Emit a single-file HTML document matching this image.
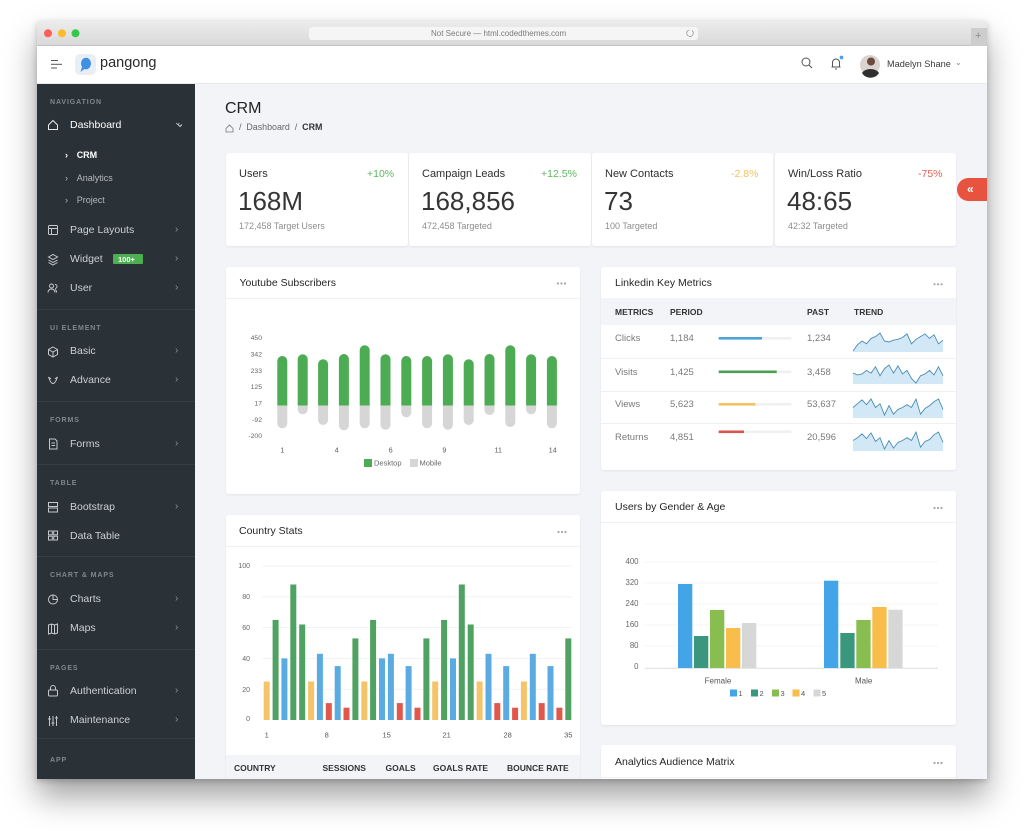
<!DOCTYPE html>
<html>
<head>
<meta charset="utf-8">
<style>
  html,body{margin:0;padding:0;}
  body{width:1024px;height:832px;background:#ffffff;position:relative;overflow:hidden;font-family:"Liberation Sans",Arial,sans-serif;}
  .win{position:absolute;left:37px;top:21px;width:950px;height:758px;overflow:hidden;background:#f3f4f7;box-shadow:0 18px 30px rgba(0,0,0,0.36),0 2px 6px rgba(0,0,0,0.2);}
  .inner{position:absolute;left:-37px;top:-21px;width:1024px;height:832px;}
  .abs{position:absolute;}
  .t{position:absolute;line-height:1;white-space:nowrap;}
  .titlebar{left:37px;top:21px;width:950px;height:25px;background:linear-gradient(#ececec,#d9d9d9);border-bottom:1px solid #c4c4c4;box-sizing:border-box;}
  .addr{left:309px;top:27px;width:389px;height:13px;background:#f5f5f5;border-radius:3px;}
  .plus{left:971px;top:28px;width:16px;height:18px;background:#cdcdcd;}
  .header{left:37px;top:46px;width:950px;height:38px;background:#fff;border-bottom:1px solid #e8e9ec;box-sizing:border-box;}
  .sidebar{left:37px;top:84px;width:158px;height:695px;background:#2a3237;}
  .sdiv{position:absolute;left:37px;width:158px;height:1px;background:#353e44;}
  .sec{font-size:7px;font-weight:bold;letter-spacing:0.9px;color:#7f888e;}
  .item{font-size:10.5px;color:#cbd0d4;}
  .sub{font-size:9px;color:#b3b9be;}
  .chev{font-size:10px;color:#8b9399;}
  .card{position:absolute;background:#fff;border-radius:3px;box-shadow:0 1px 2px rgba(0,0,0,0.07);}
  .lbl{font-size:11px;color:#2e2e2e;}
  .big{font-size:26px;color:#353535;}
  .small{font-size:9px;color:#8d8d8d;}
  .ctitle{font-size:10.5px;color:#262626;}
  .th{font-size:8.5px;font-weight:bold;color:#333;}
  .td{font-size:9.5px;color:#7a7a7a;}
</style>
</head>
<body>
<div class="win">
<div class="inner">

  <!-- browser title bar -->
  <div class="abs titlebar"></div>
  <div class="abs addr"></div>
  <div class="t" style="left:431px;top:30px;font-size:8px;color:#7a7a7a;">Not Secure — html.codedthemes.com</div>
  <div class="abs plus"></div>
  <div class="t" style="left:975px;top:31px;font-size:11px;color:#8a8a8a;">+</div>

  <!-- app header -->
  <div class="abs header"></div>
  <div class="t" style="left:100px;top:56px;font-size:14.5px;color:#2a2a2a;">pangong</div>
  <div class="t" style="left:887px;top:60px;font-size:9.2px;color:#3a3a3a;">Madelyn Shane</div>
  <div class="t" style="left:955px;top:59px;font-size:8px;color:#888;">⌄</div>

  <!-- sidebar -->
  <div class="abs sidebar"></div>
  <div class="sdiv" style="top:309px;"></div>
  <div class="sdiv" style="top:401px;"></div>
  <div class="sdiv" style="top:464px;"></div>
  <div class="sdiv" style="top:556px;"></div>
  <div class="sdiv" style="top:649px;"></div>
  <div class="sdiv" style="top:738px;"></div>

  <div class="t sec" style="left:50px;top:99px;">NAVIGATION</div>
  <div class="t item" style="left:70px;top:119.5px;color:#ffffff;">Dashboard</div>
  <div class="t" style="left:174px;top:118px;font-size:9px;color:#c9ced2;">⌄</div>
  <div class="t sub" style="left:65px;top:150.5px;color:#fff;font-weight:bold;">›</div>
  <div class="t sub" style="left:76.7px;top:150.5px;color:#fff;font-weight:bold;">CRM</div>
  <div class="t sub" style="left:65px;top:173.6px;">›</div>
  <div class="t sub" style="left:76.7px;top:173.6px;">Analytics</div>
  <div class="t sub" style="left:65px;top:196.3px;">›</div>
  <div class="t sub" style="left:76.7px;top:196.3px;">Project</div>
  <div class="t item" style="left:70px;top:224.5px;">Page Layouts</div>
  <div class="t item" style="left:70px;top:253.8px;">Widget</div>
  <div class="abs" style="left:113px;top:254px;width:30px;height:10px;background:#4caf50;border-radius:1px;"></div>
  <div class="t" style="left:118px;top:255.5px;font-size:7.5px;font-weight:bold;color:#fff;">100+</div>
  <div class="t item" style="left:70px;top:282.8px;">User</div>
  <div class="t sec" style="left:50px;top:324.7px;">UI ELEMENT</div>
  <div class="t item" style="left:70px;top:346.2px;">Basic</div>
  <div class="t item" style="left:70px;top:375.2px;">Advance</div>
  <div class="t sec" style="left:50px;top:417.1px;">FORMS</div>
  <div class="t item" style="left:70px;top:438.5px;">Forms</div>
  <div class="t sec" style="left:50px;top:479.7px;">TABLE</div>
  <div class="t item" style="left:70px;top:501.8px;">Bootstrap</div>
  <div class="t item" style="left:70px;top:530.5px;">Data Table</div>
  <div class="t sec" style="left:50px;top:572.4px;">CHART &amp; MAPS</div>
  <div class="t item" style="left:70px;top:593.8px;">Charts</div>
  <div class="t item" style="left:70px;top:623.2px;">Maps</div>
  <div class="t sec" style="left:50px;top:664.7px;">PAGES</div>
  <div class="t item" style="left:70px;top:686.2px;">Authentication</div>
  <div class="t item" style="left:70px;top:715.2px;">Maintenance</div>
  <div class="t sec" style="left:50px;top:757.1px;">APP</div>

  <div class="t chev" style="left:175px;top:224.5px;">›</div>
  <div class="t chev" style="left:175px;top:253.8px;">›</div>
  <div class="t chev" style="left:175px;top:282.8px;">›</div>
  <div class="t chev" style="left:175px;top:346.2px;">›</div>
  <div class="t chev" style="left:175px;top:375.2px;">›</div>
  <div class="t chev" style="left:175px;top:438.5px;">›</div>
  <div class="t chev" style="left:175px;top:501.8px;">›</div>
  <div class="t chev" style="left:175px;top:593.8px;">›</div>
  <div class="t chev" style="left:175px;top:623.2px;">›</div>
  <div class="t chev" style="left:175px;top:686.2px;">›</div>
  <div class="t chev" style="left:175px;top:715.2px;">›</div>

  <!-- page title -->
  <div class="t" style="left:225px;top:101px;font-size:16px;color:#222;">CRM</div>
  <div class="t" style="left:239px;top:123px;font-size:8.9px;color:#666;">/&nbsp; Dashboard &nbsp;/&nbsp; <b style="color:#333;">CRM</b></div>

  <!-- stat cards -->
  <div class="card" style="left:226px;top:153px;width:182px;height:93px;"></div>
  <div class="card" style="left:409px;top:153px;width:182px;height:93px;"></div>
  <div class="card" style="left:592px;top:153px;width:181px;height:93px;"></div>
  <div class="card" style="left:775px;top:153px;width:181px;height:93px;"></div>

  <div class="t lbl" style="left:239px;top:168.5px;">Users</div>
  <div class="t" style="left:367px;top:169px;font-size:10.5px;color:#5cb660;">+10%</div>
  <div class="t big" style="left:238px;top:188px;">168M</div>
  <div class="t small" style="left:239px;top:222px;">172,458 Target Users</div>

  <div class="t lbl" style="left:422px;top:168.5px;">Campaign Leads</div>
  <div class="t" style="left:541px;top:169px;font-size:10.5px;color:#5cb660;">+12.5%</div>
  <div class="t big" style="left:421px;top:188px;">168,856</div>
  <div class="t small" style="left:422px;top:222px;">472,458 Targeted</div>

  <div class="t lbl" style="left:605px;top:168.5px;">New Contacts</div>
  <div class="t" style="left:731px;top:169px;font-size:10.5px;color:#f1c25c;">-2.8%</div>
  <div class="t big" style="left:604px;top:188px;">73</div>
  <div class="t small" style="left:605px;top:222px;">100 Targeted</div>

  <div class="t lbl" style="left:788px;top:168.5px;">Win/Loss Ratio</div>
  <div class="t" style="left:918px;top:169px;font-size:10.5px;color:#e5604f;">-75%</div>
  <div class="t big" style="left:787px;top:188px;">48:65</div>
  <div class="t small" style="left:788px;top:222px;">42:32 Targeted</div>

  <!-- red tab -->
  <div class="abs" style="left:957px;top:178px;width:34px;height:23px;background:#e8533f;border-radius:12px 0 0 12px;"></div>
  <div class="t" style="left:967px;top:183px;font-size:12px;color:#fff;font-weight:bold;">«</div>

  <!-- chart cards -->
  <div class="card" style="left:226px;top:267px;width:354px;height:227px;"></div>
  <div class="abs" style="left:226px;top:298px;width:354px;height:1px;background:#eef0f3;"></div>
  <div class="t ctitle" style="left:239.5px;top:277.5px;">Youtube Subscribers</div>

  <div class="card" style="left:601px;top:267px;width:355px;height:203px;"></div>
  <div class="abs" style="left:601px;top:298px;width:355px;height:27px;background:#f3f4f7;"></div>
  <div class="t ctitle" style="left:615px;top:277.5px;">Linkedin Key Metrics</div>
  <div class="t th" style="left:615px;top:307.5px;">METRICS</div>
  <div class="t th" style="left:670px;top:307.5px;">PERIOD</div>
  <div class="t th" style="left:807px;top:307.5px;">PAST</div>
  <div class="t th" style="left:854px;top:307.5px;">TREND</div>
  <div class="abs" style="left:601px;top:358px;width:355px;height:1px;background:#eef0f3;"></div>
  <div class="abs" style="left:601px;top:391px;width:355px;height:1px;background:#eef0f3;"></div>
  <div class="abs" style="left:601px;top:423px;width:355px;height:1px;background:#eef0f3;"></div>
  <div class="t td" style="left:615px;top:333.5px;">Clicks</div>
  <div class="t td" style="left:670px;top:333.5px;">1,184</div>
  <div class="t td" style="left:807px;top:333.5px;">1,234</div>
  <div class="t td" style="left:615px;top:367.5px;">Visits</div>
  <div class="t td" style="left:670px;top:367.5px;">1,425</div>
  <div class="t td" style="left:807px;top:367.5px;">3,458</div>
  <div class="t td" style="left:615px;top:399.5px;">Views</div>
  <div class="t td" style="left:670px;top:399.5px;">5,623</div>
  <div class="t td" style="left:807px;top:399.5px;">53,637</div>
  <div class="t td" style="left:615px;top:433px;">Returns</div>
  <div class="t td" style="left:670px;top:433px;">4,851</div>
  <div class="t td" style="left:807px;top:433px;">20,596</div>

  <div class="card" style="left:226px;top:515px;width:354px;height:290px;"></div>
  <div class="abs" style="left:226px;top:546px;width:354px;height:1px;background:#eef0f3;"></div>
  <div class="abs" style="left:226px;top:755px;width:354px;height:30px;background:#f3f4f7;"></div>
  <div class="t ctitle" style="left:239px;top:525.5px;">Country Stats</div>
  <div class="t th" style="left:234px;top:764px;">COUNTRY</div>
  <div class="t th" style="left:322.5px;top:764px;">SESSIONS</div>
  <div class="t th" style="left:385.5px;top:764px;">GOALS</div>
  <div class="t th" style="left:433px;top:764px;">GOALS RATE</div>
  <div class="t th" style="left:507px;top:764px;">BOUNCE RATE</div>

  <div class="card" style="left:601px;top:491px;width:355px;height:234px;"></div>
  <div class="abs" style="left:601px;top:522px;width:355px;height:1px;background:#eef0f3;"></div>
  <div class="t ctitle" style="left:615px;top:501.5px;">Users by Gender &amp; Age</div>

  <div class="card" style="left:601px;top:745px;width:355px;height:60px;"></div>
  <div class="abs" style="left:601px;top:777px;width:355px;height:1px;background:#eef0f3;"></div>
  <div class="t ctitle" style="left:615px;top:756.5px;">Analytics Audience Matrix</div>

  <!-- overlay svg: icons + charts -->
  <svg class="abs" style="left:0;top:0;" width="1024" height="832" viewBox="0 0 1024 832" xmlns="http://www.w3.org/2000/svg" font-family="Liberation Sans, Arial, sans-serif">
    <!-- traffic lights -->
    <circle cx="48" cy="33.3" r="4" fill="#fc5f57"/>
    <circle cx="62" cy="33.3" r="4" fill="#fdbc2e"/>
    <circle cx="75.5" cy="33.3" r="4" fill="#34c84a"/>
    <path d="M692 30.5 a3.3 3.3 0 1 1 -3 -0.5" fill="none" stroke="#999" stroke-width="0.8"/>

    <!-- hamburger -->
    <line x1="51" y1="60.5" x2="58" y2="60.5" stroke="#555" stroke-width="1"/>
    <line x1="51" y1="64.3" x2="62" y2="64.3" stroke="#555" stroke-width="1"/>
    <line x1="51" y1="68" x2="57" y2="68" stroke="#555" stroke-width="1"/>
    <!-- logo -->
    <rect x="75" y="54" width="21" height="21" rx="5" fill="#e9eef4"/>
    <ellipse cx="86" cy="63.5" rx="5" ry="5.8" fill="#3f8fe2"/>
    <path d="M82 67 L80.5 72 L85 68.5 Z" fill="#3f8fe2"/>

    <!-- header right icons -->
    <circle cx="806" cy="62" r="4" fill="none" stroke="#555" stroke-width="1"/>
    <line x1="809" y1="65" x2="812" y2="68" stroke="#555" stroke-width="1.1"/>
    <path d="M832.5 67 V62.5 a3.5 3.5 0 0 1 7 0 V67 Z M831.5 67 H840.5 M835 69 h2" fill="none" stroke="#555" stroke-width="1"/>
    <circle cx="841.5" cy="57.5" r="1.9" fill="#4a9ff5"/>
    <circle cx="870" cy="65" r="10" fill="#d9d4cf"/>
    <circle cx="871" cy="61.5" r="4" fill="#6b4a3a"/>
    <path d="M862 73 a9 6 0 0 1 17 0 a10 10 0 0 1 -17 0Z" fill="#2f2f2f"/>

    <!-- breadcrumb home -->
    <path d="M226 128.5 L229.5 125 L233 128.5 V132 H226 Z" fill="none" stroke="#777" stroke-width="0.8"/>

    <!-- sidebar icons -->
    <g fill="none" stroke="#c3c8cc" stroke-width="1">
      <path d="M48.5 125 L53 120.5 L57.5 125 V129.5 H48.5 Z" stroke="#e6e9eb"/>
      <rect x="48.5" y="225.5" width="9" height="9" rx="1"/><line x1="48.5" y1="228.5" x2="57.5" y2="228.5"/><line x1="51.5" y1="228.5" x2="51.5" y2="234.5"/>
      <path d="M48.5 257 L53 254.5 L57.5 257 L53 259.5 Z M48.5 260 L53 262.5 L57.5 260 M48.5 262.5 L53 265 L57.5 262.5"/>
      <circle cx="51.5" cy="286" r="2"/><path d="M48 292.5 a3.5 3.5 0 0 1 7 0"/><path d="M55 284.5 a2 2 0 0 1 0 4 M56.5 292.5 a3 3 0 0 0 -1.5 -3"/>
      <path d="M53 347 L57.5 349.5 V354.5 L53 357 L48.5 354.5 V349.5 Z M48.5 349.5 L53 352 L57.5 349.5 M53 352 V357"/>
      <path d="M48.5 377 Q53 390 57.5 377 M48.5 377 L51 379 M57.5 377 L55 379"/>
      <path d="M49.5 439 H55 L57 441 V449 H49.5 Z M51.5 443 H55 M51.5 445.5 H55"/>
      <rect x="48.5" y="502.5" width="9" height="4"/><rect x="48.5" y="508" width="9" height="4"/>
      <rect x="48.5" y="531" width="3.8" height="3.8"/><rect x="53.7" y="531" width="3.8" height="3.8"/><rect x="48.5" y="536.2" width="3.8" height="3.8"/><rect x="53.7" y="536.2" width="3.8" height="3.8"/>
      <circle cx="53" cy="599.5" r="4.5"/><path d="M53 595 V599.5 H57.5"/>
      <path d="M48.5 625 L51.5 624 L54.5 625 L57.5 624 V633 L54.5 634 L51.5 633 L48.5 634 Z M51.5 624 V633 M54.5 625 V634"/>
      <rect x="48.5" y="690" width="9" height="6" rx="1"/><path d="M50.5 690 V688 a2.5 2.5 0 0 1 5 0 V690"/>
      <path d="M49.5 716 V726 M53 716 V726 M56.5 716 V726 M48 719 H51 M51.5 723 H54.5 M55 718 H58"/>
    </g>
    <path d="M178 124.5 l2 2 l2 -2" fill="none" stroke="#c9ced2" stroke-width="1"/>

    <!-- card menu dots -->
    <g fill="#a5a5a5">
      <circle cx="558" cy="283.5" r="1.1"/><circle cx="561.5" cy="283.5" r="1.1"/><circle cx="565" cy="283.5" r="1.1"/>
      <circle cx="934.5" cy="284.3" r="1.1"/><circle cx="938" cy="284.3" r="1.1"/><circle cx="941.5" cy="284.3" r="1.1"/>
      <circle cx="558.5" cy="532" r="1.1"/><circle cx="562" cy="532" r="1.1"/><circle cx="565.5" cy="532" r="1.1"/>
      <circle cx="934.5" cy="508" r="1.1"/><circle cx="938" cy="508" r="1.1"/><circle cx="941.5" cy="508" r="1.1"/>
      <circle cx="934.5" cy="763" r="1.1"/><circle cx="938" cy="763" r="1.1"/><circle cx="941.5" cy="763" r="1.1"/>
    </g>

    <!-- ================= Youtube chart ================= -->
    <g font-size="6.8" fill="#666" text-anchor="end">
      <text x="262" y="340.2">450</text>
      <text x="262" y="356.5">342</text>
      <text x="262" y="372.8">233</text>
      <text x="262" y="389.2">125</text>
      <text x="262" y="405.5">17</text>
      <text x="262" y="421.8">-92</text>
      <text x="262" y="438.2">-200</text>
    </g>
    <g fill="#d6d6d6">
      <path d="M277.3 405.5V423.3A5 5 0 0 0 287.3 423.3V405.5Z"/>
      <path d="M297.7 405.5V409.3A5 5 0 0 0 307.7 409.3V405.5Z"/>
      <path d="M318.1 405.5V420A5 5 0 0 0 328.1 420V405.5Z"/>
      <path d="M338.9 405.5V425.3A5 5 0 0 0 348.9 425.3V405.5Z"/>
      <path d="M359.7 405.5V423.3A5 5 0 0 0 369.7 423.3V405.5Z"/>
      <path d="M380.5 405.5V424.7A5 5 0 0 0 390.5 424.7V405.5Z"/>
      <path d="M401.3 405.5V412.3A5 5 0 0 0 411.3 412.3V405.5Z"/>
      <path d="M422.1 405.5V423.3A5 5 0 0 0 432.1 423.3V405.5Z"/>
      <path d="M442.9 405.5V424.7A5 5 0 0 0 452.9 424.7V405.5Z"/>
      <path d="M463.7 405.5V420A5 5 0 0 0 473.7 420V405.5Z"/>
      <path d="M484.5 405.5V410A5 5 0 0 0 494.5 410V405.5Z"/>
      <path d="M505.3 405.5V422A5 5 0 0 0 515.3 422V405.5Z"/>
      <path d="M526.1 405.5V409.3A5 5 0 0 0 536.1 409.3V405.5Z"/>
      <path d="M546.9 405.5V423.3A5 5 0 0 0 556.9 423.3V405.5Z"/>
    </g>
    <g fill="#4dac53">
      <path d="M277.3 405.5V361A5 5 0 0 1 287.3 361V405.5Z"/>
      <path d="M297.7 405.5V359.3A5 5 0 0 1 307.7 359.3V405.5Z"/>
      <path d="M318.1 405.5V364.3A5 5 0 0 1 328.1 364.3V405.5Z"/>
      <path d="M338.9 405.5V359A5 5 0 0 1 348.9 359V405.5Z"/>
      <path d="M359.7 405.5V350.3A5 5 0 0 1 369.7 350.3V405.5Z"/>
      <path d="M380.5 405.5V359.3A5 5 0 0 1 390.5 359.3V405.5Z"/>
      <path d="M401.3 405.5V361A5 5 0 0 1 411.3 361V405.5Z"/>
      <path d="M422.1 405.5V361A5 5 0 0 1 432.1 361V405.5Z"/>
      <path d="M442.9 405.5V359.3A5 5 0 0 1 452.9 359.3V405.5Z"/>
      <path d="M463.7 405.5V364.3A5 5 0 0 1 473.7 364.3V405.5Z"/>
      <path d="M484.5 405.5V359A5 5 0 0 1 494.5 359V405.5Z"/>
      <path d="M505.3 405.5V350.3A5 5 0 0 1 515.3 350.3V405.5Z"/>
      <path d="M526.1 405.5V359.3A5 5 0 0 1 536.1 359.3V405.5Z"/>
      <path d="M546.9 405.5V361A5 5 0 0 1 556.9 361V405.5Z"/>
    </g>
    <g font-size="7" fill="#555" text-anchor="middle">
      <text x="282.3" y="452.5">1</text>
      <text x="336.7" y="452.5">4</text>
      <text x="390.7" y="452.5">6</text>
      <text x="444.3" y="452.5">9</text>
      <text x="498.3" y="452.5">11</text>
      <text x="552.7" y="452.5">14</text>
    </g>
    <rect x="364" y="459" width="8" height="8" fill="#4dac53"/>
    <text x="374" y="465.7" font-size="7.5" fill="#666">Desktop</text>
    <rect x="410" y="459" width="8" height="8" fill="#d6d6d6"/>
    <text x="419.5" y="465.7" font-size="7.5" fill="#666">Mobile</text>

    <!-- ================= Linkedin progress + sparklines ================= -->
    <g>
      <rect x="718.7" y="337" width="72.6" height="2.6" fill="#eef0f2"/>
      <rect x="718.7" y="337" width="43.3" height="2.6" fill="#4ea2d8"/>
      <rect x="718.7" y="370.5" width="72.6" height="2.6" fill="#eef0f2"/>
      <rect x="718.7" y="370.5" width="58" height="2.6" fill="#4d9d55"/>
      <rect x="718.7" y="403" width="72.6" height="2.6" fill="#eef0f2"/>
      <rect x="718.7" y="403" width="36.6" height="2.6" fill="#f4c262"/>
      <rect x="718.7" y="430.5" width="72.6" height="2.6" fill="#eef0f2"/>
      <rect x="718.7" y="430.5" width="25.3" height="2.6" fill="#d9534f"/>
    </g>
    <g fill="#d3e8f7" stroke="none">
      <polygon points="853,352 853,351 857.5,344.7 862,341.1 866.5,343.8 871,338.4 875.5,336.6 880,333 884.5,341.1 889,342 893.5,340.2 898,339.3 902.5,337.5 907,333.9 911.5,343.8 916,339.3 920.5,336.6 925,333.9 929.5,338.4 934,334.8 938.5,343.8 943,340.2 943,352"/>
      <polygon points="853,384 853,373.1 857.5,374.9 862,374 866.5,370.4 871,373.1 875.5,366.8 880,375.8 884.5,368.6 889,365 893.5,373.1 898,365.9 902.5,374 907,370.4 911.5,378.5 916,383 920.5,375.8 925,374 929.5,370.4 934,374.9 938.5,366.8 943,375.8 943,384"/>
      <polygon points="853,418 853,407.5 857.5,403.7 862,399.9 866.5,404.7 871,399 875.5,407.5 880,403.7 884.5,415.1 889,405.6 893.5,414.2 898,409.4 902.5,407.5 907,404.7 911.5,407.5 916,399 920.5,414.2 925,408.5 929.5,405.6 934,401.8 938.5,399 943,409.4 943,418"/>
      <polygon points="853,451 853,440.5 857.5,437.7 862,433.9 866.5,438.6 871,432.9 875.5,441.5 880,437.7 884.5,449.1 889,440.5 893.5,448.1 898,442.4 902.5,440.5 907,437.7 911.5,440.5 916,432 920.5,447.2 925,441.5 929.5,439.6 934,434.8 938.5,432 943,442.4 943,451"/>
    </g>
    <g fill="none" stroke="#4a8db5" stroke-width="0.9">
      <polyline points="853,351 857.5,344.7 862,341.1 866.5,343.8 871,338.4 875.5,336.6 880,333 884.5,341.1 889,342 893.5,340.2 898,339.3 902.5,337.5 907,333.9 911.5,343.8 916,339.3 920.5,336.6 925,333.9 929.5,338.4 934,334.8 938.5,343.8 943,340.2"/>
      <polyline points="853,373.1 857.5,374.9 862,374 866.5,370.4 871,373.1 875.5,366.8 880,375.8 884.5,368.6 889,365 893.5,373.1 898,365.9 902.5,374 907,370.4 911.5,378.5 916,383 920.5,375.8 925,374 929.5,370.4 934,374.9 938.5,366.8 943,375.8"/>
      <polyline points="853,407.5 857.5,403.7 862,399.9 866.5,404.7 871,399 875.5,407.5 880,403.7 884.5,415.1 889,405.6 893.5,414.2 898,409.4 902.5,407.5 907,404.7 911.5,407.5 916,399 920.5,414.2 925,408.5 929.5,405.6 934,401.8 938.5,399 943,409.4"/>
      <polyline points="853,440.5 857.5,437.7 862,433.9 866.5,438.6 871,432.9 875.5,441.5 880,437.7 884.5,449.1 889,440.5 893.5,448.1 898,442.4 902.5,440.5 907,437.7 911.5,440.5 916,432 920.5,447.2 925,441.5 929.5,439.6 934,434.8 938.5,432 943,442.4"/>
    </g>

    <!-- ================= Country Stats chart ================= -->
    <g stroke="#eeeff2" stroke-width="0.8">
      <line x1="262" y1="566" x2="572" y2="566"/>
      <line x1="262" y1="596.8" x2="572" y2="596.8"/>
      <line x1="262" y1="627.6" x2="572" y2="627.6"/>
      <line x1="262" y1="658.4" x2="572" y2="658.4"/>
      <line x1="262" y1="689.2" x2="572" y2="689.2"/>
    </g>
    <g font-size="7" fill="#666" text-anchor="end">
      <text x="250" y="567.8">100</text>
      <text x="250" y="598.8">80</text>
      <text x="250" y="630.2">60</text>
      <text x="250" y="661.2">40</text>
      <text x="250" y="692.2">20</text>
      <text x="250" y="721.2">0</text>
    </g>
    <g>
      <rect x="263.7" y="681.5" width="6" height="38.5" fill="#f5c46a"/>
      <rect x="272.6" y="619.9" width="6" height="100.1" fill="#50a262"/>
      <rect x="281.4" y="658.4" width="6" height="61.6" fill="#5aabe2"/>
      <rect x="290.3" y="584.5" width="6" height="135.5" fill="#50a262"/>
      <rect x="299.2" y="624.5" width="6" height="95.5" fill="#50a262"/>
      <rect x="308.1" y="681.5" width="6" height="38.5" fill="#f5c46a"/>
      <rect x="316.9" y="653.8" width="6" height="66.2" fill="#5aabe2"/>
      <rect x="325.8" y="703.1" width="6" height="16.9" fill="#e2574c"/>
      <rect x="334.7" y="666.1" width="6" height="53.9" fill="#5aabe2"/>
      <rect x="343.5" y="707.7" width="6" height="12.3" fill="#e2574c"/>
      <rect x="352.4" y="638.4" width="6" height="81.6" fill="#50a262"/>
      <rect x="361.3" y="681.5" width="6" height="38.5" fill="#f5c46a"/>
      <rect x="370.1" y="619.9" width="6" height="100.1" fill="#50a262"/>
      <rect x="379.0" y="658.4" width="6" height="61.6" fill="#5aabe2"/>
      <rect x="387.9" y="653.8" width="6" height="66.2" fill="#5aabe2"/>
      <rect x="396.8" y="703.1" width="6" height="16.9" fill="#e2574c"/>
      <rect x="405.6" y="666.1" width="6" height="53.9" fill="#5aabe2"/>
      <rect x="414.5" y="707.7" width="6" height="12.3" fill="#e2574c"/>
      <rect x="423.4" y="638.4" width="6" height="81.6" fill="#50a262"/>
      <rect x="432.2" y="681.5" width="6" height="38.5" fill="#f5c46a"/>
      <rect x="441.1" y="619.9" width="6" height="100.1" fill="#50a262"/>
      <rect x="450.0" y="658.4" width="6" height="61.6" fill="#5aabe2"/>
      <rect x="458.8" y="584.5" width="6" height="135.5" fill="#50a262"/>
      <rect x="467.7" y="624.5" width="6" height="95.5" fill="#50a262"/>
      <rect x="476.6" y="681.5" width="6" height="38.5" fill="#f5c46a"/>
      <rect x="485.5" y="653.8" width="6" height="66.2" fill="#5aabe2"/>
      <rect x="494.3" y="703.1" width="6" height="16.9" fill="#e2574c"/>
      <rect x="503.2" y="666.1" width="6" height="53.9" fill="#5aabe2"/>
      <rect x="512.1" y="707.7" width="6" height="12.3" fill="#e2574c"/>
      <rect x="520.9" y="681.5" width="6" height="38.5" fill="#f5c46a"/>
      <rect x="529.8" y="653.8" width="6" height="66.2" fill="#5aabe2"/>
      <rect x="538.7" y="703.1" width="6" height="16.9" fill="#e2574c"/>
      <rect x="547.5" y="666.1" width="6" height="53.9" fill="#5aabe2"/>
      <rect x="556.4" y="707.7" width="6" height="12.3" fill="#e2574c"/>
      <rect x="565.3" y="638.4" width="6" height="81.6" fill="#50a262"/>
    </g>
    <g font-size="7.5" fill="#555" text-anchor="middle">
      <text x="266.7" y="737.3">1</text>
      <text x="326.7" y="737.3">8</text>
      <text x="386.7" y="737.3">15</text>
      <text x="446.7" y="737.3">21</text>
      <text x="507.7" y="737.3">28</text>
      <text x="568.3" y="737.3">35</text>
    </g>

    <!-- ================= Gender chart ================= -->
    <g stroke="#f0f1f3" stroke-width="0.8">
      <line x1="645" y1="562" x2="938" y2="562"/>
      <line x1="645" y1="583" x2="938" y2="583"/>
      <line x1="645" y1="604" x2="938" y2="604"/>
      <line x1="645" y1="625" x2="938" y2="625"/>
      <line x1="645" y1="646" x2="938" y2="646"/>
    </g>
    <line x1="645" y1="668.3" x2="938" y2="668.3" stroke="#dcdde0" stroke-width="1"/>
    <g font-size="7.8" fill="#666" text-anchor="end">
      <text x="638.5" y="564">400</text>
      <text x="638.5" y="585">320</text>
      <text x="638.5" y="606">240</text>
      <text x="638.5" y="627">160</text>
      <text x="638.5" y="648">80</text>
      <text x="638.5" y="669">0</text>
    </g>
    <rect x="678" y="584" width="14.3" height="84" fill="#43a5e8"/>
    <rect x="694" y="636" width="14.3" height="32" fill="#3a977d"/>
    <rect x="710" y="610" width="14.3" height="58" fill="#88bd4f"/>
    <rect x="726" y="628" width="14.3" height="40" fill="#f8bd4a"/>
    <rect x="742" y="623" width="14.3" height="45" fill="#d7d7d7"/>
    <rect x="824" y="580.7" width="14.3" height="87.3" fill="#43a5e8"/>
    <rect x="840.3" y="633" width="14.3" height="35" fill="#3a977d"/>
    <rect x="856.3" y="620" width="14.3" height="48" fill="#88bd4f"/>
    <rect x="872.3" y="607" width="14.3" height="61" fill="#f8bd4a"/>
    <rect x="888.3" y="609.7" width="14.3" height="58.3" fill="#d7d7d7"/>
    <g font-size="8" fill="#555" text-anchor="middle">
      <text x="718" y="683.5">Female</text>
      <text x="863.7" y="683.5">Male</text>
    </g>
    <g font-size="7.5" fill="#555">
      <rect x="730" y="689.5" width="7" height="7" fill="#43a5e8"/><text x="738.5" y="696">1</text>
      <rect x="751" y="689.5" width="7" height="7" fill="#3a977d"/><text x="759.5" y="696">2</text>
      <rect x="772" y="689.5" width="7" height="7" fill="#88bd4f"/><text x="780.5" y="696">3</text>
      <rect x="792.5" y="689.5" width="7" height="7" fill="#f8bd4a"/><text x="801" y="696">4</text>
      <rect x="813.5" y="689.5" width="7" height="7" fill="#d7d7d7"/><text x="822" y="696">5</text>
    </g>
  </svg>

</div>
</div>
</body>
</html>
